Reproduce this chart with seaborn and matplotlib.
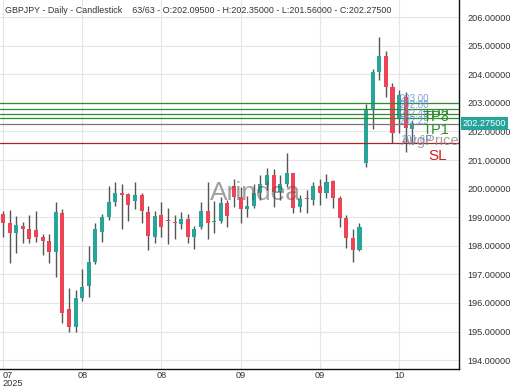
import numpy as np
import pandas as pd
import matplotlib
import matplotlib.pyplot as plt
import matplotlib.transforms as mtransforms
import seaborn as sns

matplotlib.use("Agg")

# --- data ---
opens = [199.11, 198.81, 198.44, 198.69, 198.58, 198.55, 198.30, 198.17, 197.79, 199.14,
         195.80, 195.15, 196.17, 196.60, 197.44, 198.49, 198.99, 199.54, 199.86, 199.81,
         199.58, 199.78, 199.19, 198.32, 199.08, 198.90, 198.84, 198.76, 198.93, 198.32,
         198.65, 199.23, 198.82, 198.88, 199.51, 200.09, 199.72, 199.29, 199.40, 199.84,
         200.13, 200.48, 199.89, 200.15, 200.53, 199.37, 199.65, 199.60, 200.09, 199.86,
         200.28, 199.66, 198.96, 198.26, 197.85, 200.91, 202.75, 204.09, 204.64, 203.56,
         202.46, 203.21, 202.095]
highs = [199.23, 199.25, 199.04, 198.84, 199.08, 199.22, 198.41, 198.41, 199.52, 199.29,
         196.51, 196.45, 197.18, 197.99, 198.81, 199.11, 200.09, 200.24, 200.15, 199.84,
         200.24, 199.84, 199.39, 199.22, 199.54, 199.31, 199.08, 199.19, 199.11, 198.69,
         199.54, 200.24, 199.58, 199.70, 199.60, 200.33, 200.07, 199.74, 200.15, 200.48,
         200.71, 200.67, 200.48, 201.26, 200.55, 199.78, 199.95, 200.24, 200.33, 200.51,
         200.30, 199.74, 199.08, 198.58, 198.81, 202.96, 204.17, 205.31, 204.82, 203.68,
         203.45, 203.39, 202.35]
lows = [198.32, 197.39, 197.74, 198.09, 198.09, 198.14, 197.68, 197.39, 196.92, 195.31,
        195.00, 195.00, 196.05, 196.22, 197.36, 198.14, 198.90, 199.40, 198.58, 198.88,
        199.28, 198.79, 197.85, 198.09, 198.30, 198.06, 198.23, 198.58, 198.11, 197.90,
        198.58, 198.25, 198.44, 198.79, 198.65, 199.37, 198.79, 199.02, 199.31, 199.60,
        199.95, 199.37, 199.60, 200.07, 199.16, 199.19, 199.14, 199.43, 199.43, 199.66,
        199.31, 198.67, 197.91, 197.44, 197.83, 200.74, 202.07, 203.80, 203.21, 201.60,
        201.93, 201.29, 201.56]
closes = [198.81, 198.44, 198.72, 198.58, 198.23, 198.32, 198.18, 197.79, 199.17, 195.66,
          195.15, 196.16, 196.57, 197.44, 198.58, 199.02, 199.53, 199.84, 199.79, 199.43,
          199.78, 199.23, 198.34, 199.04, 198.67, 198.86, 198.79, 198.93, 198.32, 198.58,
          199.22, 198.81, 198.88, 199.51, 199.04, 199.72, 199.28, 199.39, 199.84, 200.16,
          200.48, 199.89, 200.16, 200.53, 199.31, 199.63, 199.63, 200.09, 199.86, 200.24,
          199.66, 198.96, 198.26, 197.85, 198.67, 202.75, 204.09, 204.64, 203.54, 201.93,
          203.27, 202.11, 202.275]
dates = pd.bdate_range("2025-07-21", periods=len(opens))

tp_levels = [203.00, 202.78, 202.61, 202.46]
avg_price = 202.26
sl_level = 201.60
level_labels = ["203.00", "202.80", "202.49", "202.29"]

df = pd.DataFrame({"date": dates, "open": opens, "high": highs, "low": lows, "close": closes})
df["idx"] = np.arange(len(df))
df["up"] = df["close"] >= df["open"]

UP = "#26a69a"
DOWN = "#ef4455"

sns.set_theme(style="white")
plt.rcParams["font.family"] = ["Liberation Sans", "DejaVu Sans"]

fig = plt.figure(figsize=(5.2, 3.9), dpi=100)
ax = fig.add_axes([0.0, 0.054, 0.883, 0.946])

# grid
ax.set_axisbelow(True)
ax.grid(True, color="#e6e6e6", linewidth=0.8)

# wicks
ax.vlines(df["idx"], df["low"], df["high"], color="#555555", linewidth=1.0, zorder=2)
# bodies
body_bottom = np.minimum(df["open"], df["close"])
body_h = np.maximum(np.abs(df["close"] - df["open"]), 0.03)
ax.bar(df["idx"], body_h, bottom=body_bottom, width=0.62,
       color=np.where(df["up"], UP, DOWN), linewidth=0, zorder=3)

# levels
for lv in tp_levels:
    ax.axhline(lv, color="#2e8b2e", linewidth=0.9, zorder=4)
ax.axhline(avg_price, color="#777777", linewidth=0.9, zorder=4)
ax.axhline(sl_level, color="#b22222", linewidth=0.9, zorder=4)

# level texts
for lab, y in zip(level_labels, [203.12, 202.91, 202.60, 202.37]):
    ax.text(60.1, y, lab, color="#6b8fd6", fontsize=7, alpha=0.85, va="center", zorder=5)
ax.text(60.4, 201.70, "201.6P", color="#6b8fd6", fontsize=7, alpha=0.85, va="center", zorder=5)
ax.text(60.3, 201.68, "AvgPrice", color="#888888", fontsize=10.5, alpha=0.8, va="center", zorder=5)
ax.text(63.5, 202.56, "TP2", color="#2e8b2e", fontsize=10.5, va="center", zorder=6)
ax.text(63.5, 202.50, "TP3", color="#2e8b2e", fontsize=10.5, va="center", zorder=6)
ax.text(63.5, 202.05, "TP1", color="#2e8b2e", fontsize=10.5, va="center", zorder=6)
ax.text(64.5, 201.15, "SL", color="#cc2222", fontsize=11, va="center", zorder=6)

# watermark
ax.text(38.3, 199.85, "Arindea", color="#555555", fontsize=19, alpha=0.55,
        ha="center", va="center", zorder=6)

# title
ax.text(0.011, 0.972,
        "GBPJPY - Daily - Candlestick    63/63 - O:202.09500 - H:202.35000 - L:201.56000 - C:202.27500",
        transform=ax.transAxes, fontsize=6.4, color="#333333", va="center", ha="left")

# axes
ax.set_xlim(-0.45, 69.1)
ax.set_ylim(193.69, 206.6)
ax.yaxis.tick_right()
ax.set_yticks(np.arange(194, 207, 1))
ax.set_yticklabels([f"{v:.5f}" for v in np.arange(194, 207, 1)], fontsize=6.6, color="#333333")
tick_pos = list(range(0, len(df), 12))
tick_lab = [dates[i].strftime("%m") for i in tick_pos]
tick_lab[0] = tick_lab[0] + "\n" + dates[0].strftime("%Y")
ax.set_xticks(tick_pos)
ax.set_xticklabels(tick_lab, fontsize=6.6, color="#333333", linespacing=0.85)
ax.get_xticklabels()[0].set_ha("left")
ax.tick_params(axis="x", length=0, pad=1.5)
ax.tick_params(axis="y", length=0, pad=6)
ax.set_xlabel("")
ax.set_ylabel("")
for side in ["left", "top"]:
    ax.spines[side].set_visible(False)
for side in ["right", "bottom"]:
    ax.spines[side].set_visible(True)
    ax.spines[side].set_color("#111111")
    ax.spines[side].set_linewidth(1.0)

# last price box
trans = mtransforms.blended_transform_factory(ax.transAxes, ax.transData)
ax.text(1.008, closes[-1], f"{closes[-1]:.5f}", transform=trans, fontsize=6.6, color="white",
        va="center", ha="left", zorder=7,
        bbox=dict(boxstyle="square,pad=0.2", facecolor=UP, edgecolor="none"), clip_on=False)

fig.savefig("out.png", dpi=100)
